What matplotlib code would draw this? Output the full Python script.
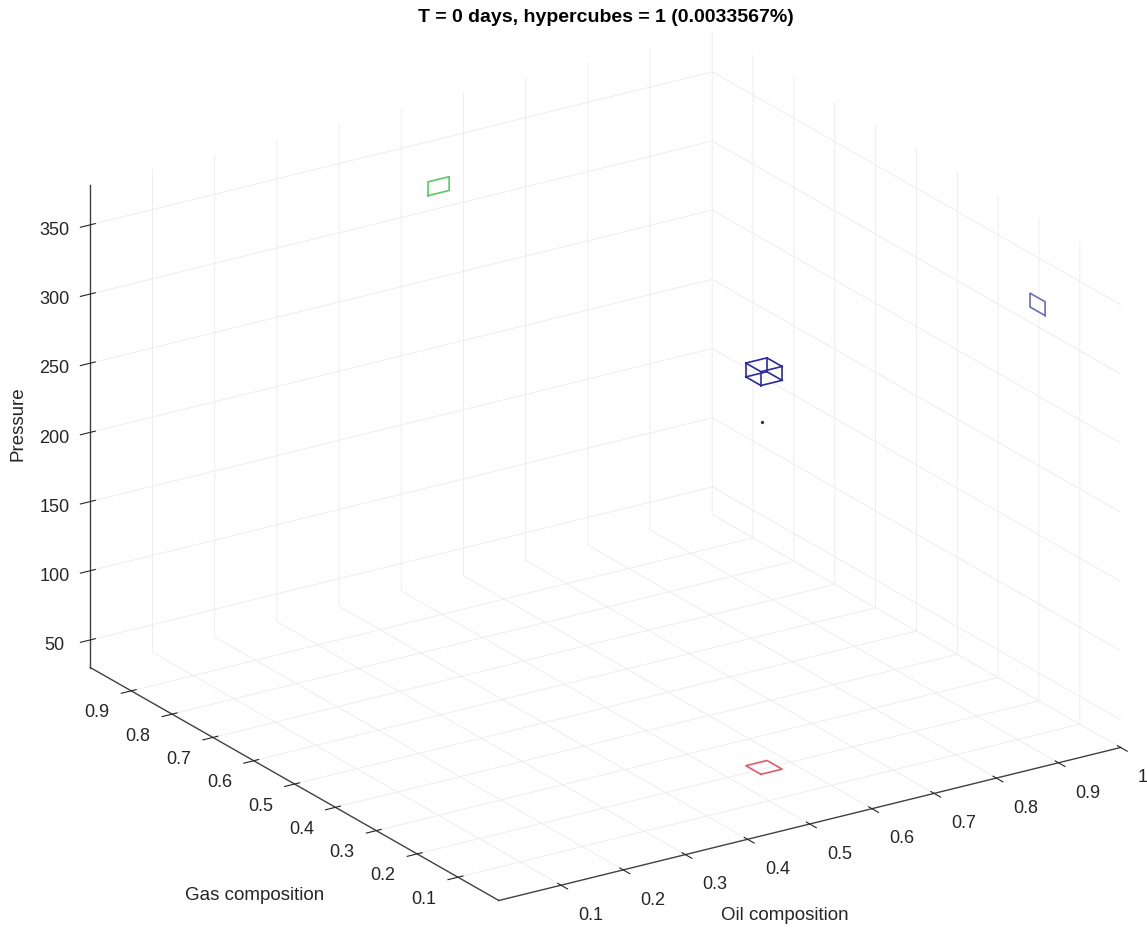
import numpy as np
import matplotlib
matplotlib.use("Agg")
import matplotlib.pyplot as plt

plt.rcParams['font.family'] = ['Liberation Sans', 'DejaVu Sans']

# hypercube bounds (oil, gas, pressure)
oil_rng = [0.543, 0.577]
gas_rng = [0.185, 0.222]
pres_rng = [311, 321]
# current state point
pt_oil = [0.556]
pt_gas = [0.203]
pt_pres = [280]

oil_lim = [0.0, 1.0]
gas_lim = [0.0, 1.0]
pres_lim = [30, 379]
oil_ticks = [0.1, 0.2, 0.3, 0.4, 0.5, 0.6, 0.7, 0.8, 0.9, 1.0]
oil_ticklabels = ['0.1', '0.2', '0.3', '0.4', '0.5', '0.6', '0.7', '0.8', '0.9', '1']
gas_ticks = [0.1, 0.2, 0.3, 0.4, 0.5, 0.6, 0.7, 0.8, 0.9]
pres_ticks = [50, 100, 150, 200, 250, 300, 350]

txt_col = '#262626'

fig = plt.figure(figsize=(11.47, 9.3), dpi=100)
ax = fig.add_axes([0.0175, 0.011, 1.0, 0.95], projection='3d')
ax.set_proj_type('ortho')
ax.set_box_aspect((1, 1, 0.7), zoom=1.29)
ax.view_init(elev=22, azim=-123.3)

# cube wireframe
x0, x1 = oil_rng
y0, y1 = gas_rng
z0, z1 = pres_rng
cube_col = '#2a2aa0'
for y in (y0, y1):
    for z in (z0, z1):
        ax.plot([x0, x1], [y, y], [z, z], color=cube_col, lw=1.2, clip_on=False)
for x in (x0, x1):
    for z in (z0, z1):
        ax.plot([x, x], [y0, y1], [z, z], color=cube_col, lw=1.2, clip_on=False)
for x in (x0, x1):
    for y in (y0, y1):
        ax.plot([x, x], [y, y], [z0, z1], color=cube_col, lw=1.2, clip_on=False)

# projections on the walls / floor
wall_x = oil_lim[1]
wall_y = gas_lim[1]
floor_z = pres_lim[0]
ax.plot([x0, x1, x1, x0, x0], [wall_y] * 5, [z0, z0, z1, z1, z0], color='#55cc66', lw=1.2, clip_on=False)
ax.plot([wall_x] * 5, [y0, y1, y1, y0, y0], [z0, z0, z1, z1, z0], color='#6a6ac0', lw=1.2, clip_on=False)
ax.plot([x0, x1, x1, x0, x0], [y0, y0, y1, y1, y0], [floor_z] * 5, color='#e05a6a', lw=1.2, clip_on=False)

ax.scatter(pt_oil, pt_gas, pt_pres, color='#333355', s=2, depthshade=False, clip_on=False)

ax.set_xlim(oil_lim)
ax.set_ylim(gas_lim)
ax.set_zlim(pres_lim)
ax.set_xticks(oil_ticks)
ax.set_xticklabels(oil_ticklabels, ha='left', va='center')
ax.set_yticks(gas_ticks)
ax.set_yticklabels(['%.1f' % v for v in gas_ticks], ha='right', va='center')
ax.set_zticks(pres_ticks)

for a in (ax.xaxis, ax.yaxis, ax.zaxis):
    a.set_pane_color((1, 1, 1, 0))
    a.pane.set_edgecolor((1, 1, 1, 0))
    a._axinfo['grid']['color'] = (0.92, 0.92, 0.92, 1)
    a._axinfo['grid']['linewidth'] = 0.6
    a._axinfo['axisline']['color'] = (0.25, 0.25, 0.25, 1)
    a._axinfo['tick']['color'] = (0.25, 0.25, 0.25, 1)
    a.line.set_color((0.25, 0.25, 0.25, 1))
    a.line.set_linewidth(1.0)

ax.tick_params(labelsize=13, colors=txt_col)
ax.tick_params(axis='x', pad=6)

# axis titles kept horizontal as in the original
fig.text(0.222, 0.037, 'Gas composition', fontsize=13.5, color=txt_col, ha='center', va='center')
fig.text(0.684, 0.016, 'Oil composition', fontsize=13.5, color=txt_col, ha='center', va='center')
fig.text(0.016, 0.544, 'Pressure', fontsize=13.5, color=txt_col, ha='center', va='center', rotation=90)

fig.text(0.528, 0.981, 'T = 0 days, hypercubes = 1 (0.0033567%)', fontsize=14, fontweight='bold',
         ha='center', va='center')

plt.savefig('out.png', dpi=100)
